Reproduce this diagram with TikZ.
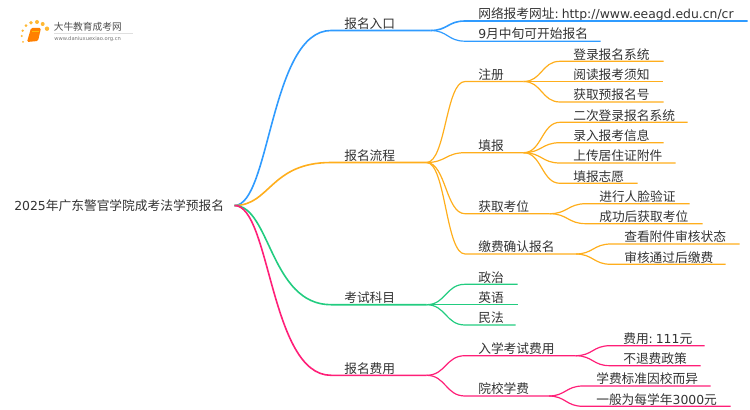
\documentclass[tikz,border=0pt]{standalone}
\usepackage{fontspec}
\setmainfont{Noto Sans CJK SC}
\newfontfamily\latfont{DejaVu Sans}
\usetikzlibrary{calc}
\newdimen\PX \PX=0.75pt
\newcommand{\lat}[1]{{\latfont\fontsize{9.3pt}{11pt}\selectfont #1}}
\definecolor{cblue}{HTML}{2F9BFF}
\definecolor{corange}{HTML}{FFAE1C}
\definecolor{cgreen}{HTML}{22CC80}
\definecolor{cpink}{HTML}{FF1F78}
\definecolor{ctext}{HTML}{333333}
\tikzset{
  item/.style={anchor=south west,inner xsep=0pt,inner ysep=0pt,align=left,text height=11\PX,text depth=2\PX,text=ctext,font=\fontsize{9.55pt}{11pt}\selectfont},
  wire/.style={line width=1.2\PX},
  wirethick/.style={line width=1.6\PX},
}
% \nd{name}{x start}{x end}{y of underline}{text}
\newcommand{\nd}[5]{\node[item,text width={(#3-#2)*0.75pt}] (#1) at (#2,#4) {\hspace*{13\PX}#5};}
% \lk[ctrl fraction]{from anchor}{child}{style}
\newcommand{\lk}[4][.5]{\draw[#4] let \p1=(#2),\p2=(#3.south west),\n1={\x1+#1*(\x2-\x1)} in (\p1) .. controls (\n1,\y1) and (\n1,\y2) .. (\p2) -- (#3.south east);}
\begin{document}
\begin{tikzpicture}[x=0.75pt,y=-0.75pt]
\useasboundingbox (0,0) rectangle (750,410);
% logo
\begin{scope}
\foreach \px/\py/\r in {26/25.7/1.5,31/22.7/1.9,37/22/2,42.7/24/2,47/28.7/2.2,22.7/30.7/1.3,21.7/36/1.1,23/42/1}
  \fill[color=orange!70!yellow,opacity=.8] (\px,\py) circle[radius=\r];
\fill[color=orange,rounded corners=1pt] (31,28) -- (41,28) -- (38,41) -- (27,42) -- cycle;
\draw[color=yellow!50!orange,line width=.7pt] (32,31) -- (39,31);
\draw[color=gray!25,line width=.5pt] (54,33) -- (133,33);
\node[inner sep=0pt,anchor=west,text=black!70,font=\fontsize{7.3pt}{8pt}\selectfont] (logoa) at (53.5,27) {大牛教育成考网};
\node[inner sep=0pt,anchor=west,text=black!55,font=\latfont\fontsize{3.9pt}{5pt}\selectfont] (logob) at (54,38.7) {www.daniuxuexiao.org.cn};
\end{scope}
% root
\node[anchor=west,inner sep=0pt,text=ctext,font=\fontsize{9.55pt}{11pt}\selectfont,text width=220\PX,align=left] (root) at (14,205.5) {\lat{2025}年广东警官学院成考法学预报名};
% level 1
\nd{a}{331}{430}{30.5}{报名入口}
\nd{b}{331}{426}{162.5}{报名流程}
\nd{c}{331}{426}{304.7}{考试科目}
\nd{d}{331}{426}{375.3}{报名费用}
\lk[.37]{root.east}{a}{color=cblue,wirethick}
\lk[.37]{root.east}{b}{color=corange,wirethick}
\lk[.37]{root.east}{c}{color=cgreen,wirethick}
\lk[.37]{root.east}{d}{color=cpink,wirethick}
% blue
\nd{a1}{465}{747}{21}{网络报考网址\lat{:\hspace{2.2pt}http://www.eeagd.edu.cn/cr}}
\nd{a2}{465}{600}{41.2}{\lat{9}月中旬可开始报名}
\lk{a.south east}{a1}{color=cblue,wirethick}
\lk{a.south east}{a2}{color=cblue,wire}
% orange
\nd{b1}{465}{523}{81.5}{注册}
\nd{b2}{465}{523}{152.7}{填报}
\nd{b3}{465}{549}{213.7}{获取考位}
\nd{b4}{465}{575}{254}{缴费确认报名}
\lk{b.south east}{b1}{color=corange,wire}
\lk{b.south east}{b2}{color=corange,wire}
\lk{b.south east}{b3}{color=corange,wire}
\lk{b.south east}{b4}{color=corange,wire}
\nd{b11}{560}{663}{61.3}{登录报名系统}
\nd{b12}{560}{662}{81.5}{阅读报考须知}
\nd{b13}{560}{663}{102}{获取预报名号}
\foreach \k in {b11,b12,b13} {\lk{b1.south east}{\k}{color=corange,wire}}
\nd{b21}{560}{687}{122.3}{二次登录报名系统}
\nd{b22}{560}{663}{142.7}{录入报考信息}
\nd{b23}{560}{675}{163}{上传居住证附件}
\nd{b24}{560}{637}{183.3}{填报志愿}
\foreach \k in {b21,b22,b23,b24} {\lk{b2.south east}{\k}{color=corange,wire}}
\nd{b31}{586}{689}{203.7}{进行人脸验证}
\nd{b32}{586}{702}{223.7}{成功后获取考位}
\foreach \k in {b31,b32} {\lk{b3.south east}{\k}{color=corange,wire}}
\nd{b41}{611}{739}{244}{查看附件审核状态}
\nd{b42}{611}{725}{264.3}{审核通过后缴费}
\foreach \k in {b41,b42} {\lk{b4.south east}{\k}{color=corange,wire}}
% green
\nd{c1}{465}{517}{284.3}{政治}
\nd{c2}{465}{517}{304.7}{英语}
\nd{c3}{465}{515}{325}{民法}
\foreach \k in {c1,c2,c3} {\lk{c.south east}{\k}{color=cgreen,wire}}
% pink
\nd{d1}{465}{575}{355.7}{入学考试费用}
\nd{d2}{465}{548}{396}{院校学费}
\foreach \k in {d1,d2} {\lk{d.south east}{\k}{color=cpink,wire}}
\nd{d11}{610}{704}{345.7}{费用\lat{:\hspace{2.2pt}111}元}
\nd{d12}{610}{700}{365.7}{不退费政策}
\foreach \k in {d11,d12} {\lk{d1.south east}{\k}{color=cpink,wire}}
\nd{d21}{583}{710}{386}{学费标准因校而异}
\nd{d22}{583}{730}{406.3}{一般为每学年\lat{3000}元}
\foreach \k in {d21,d22} {\lk{d2.south east}{\k}{color=cpink,wire}}
\end{tikzpicture}
\end{document}
